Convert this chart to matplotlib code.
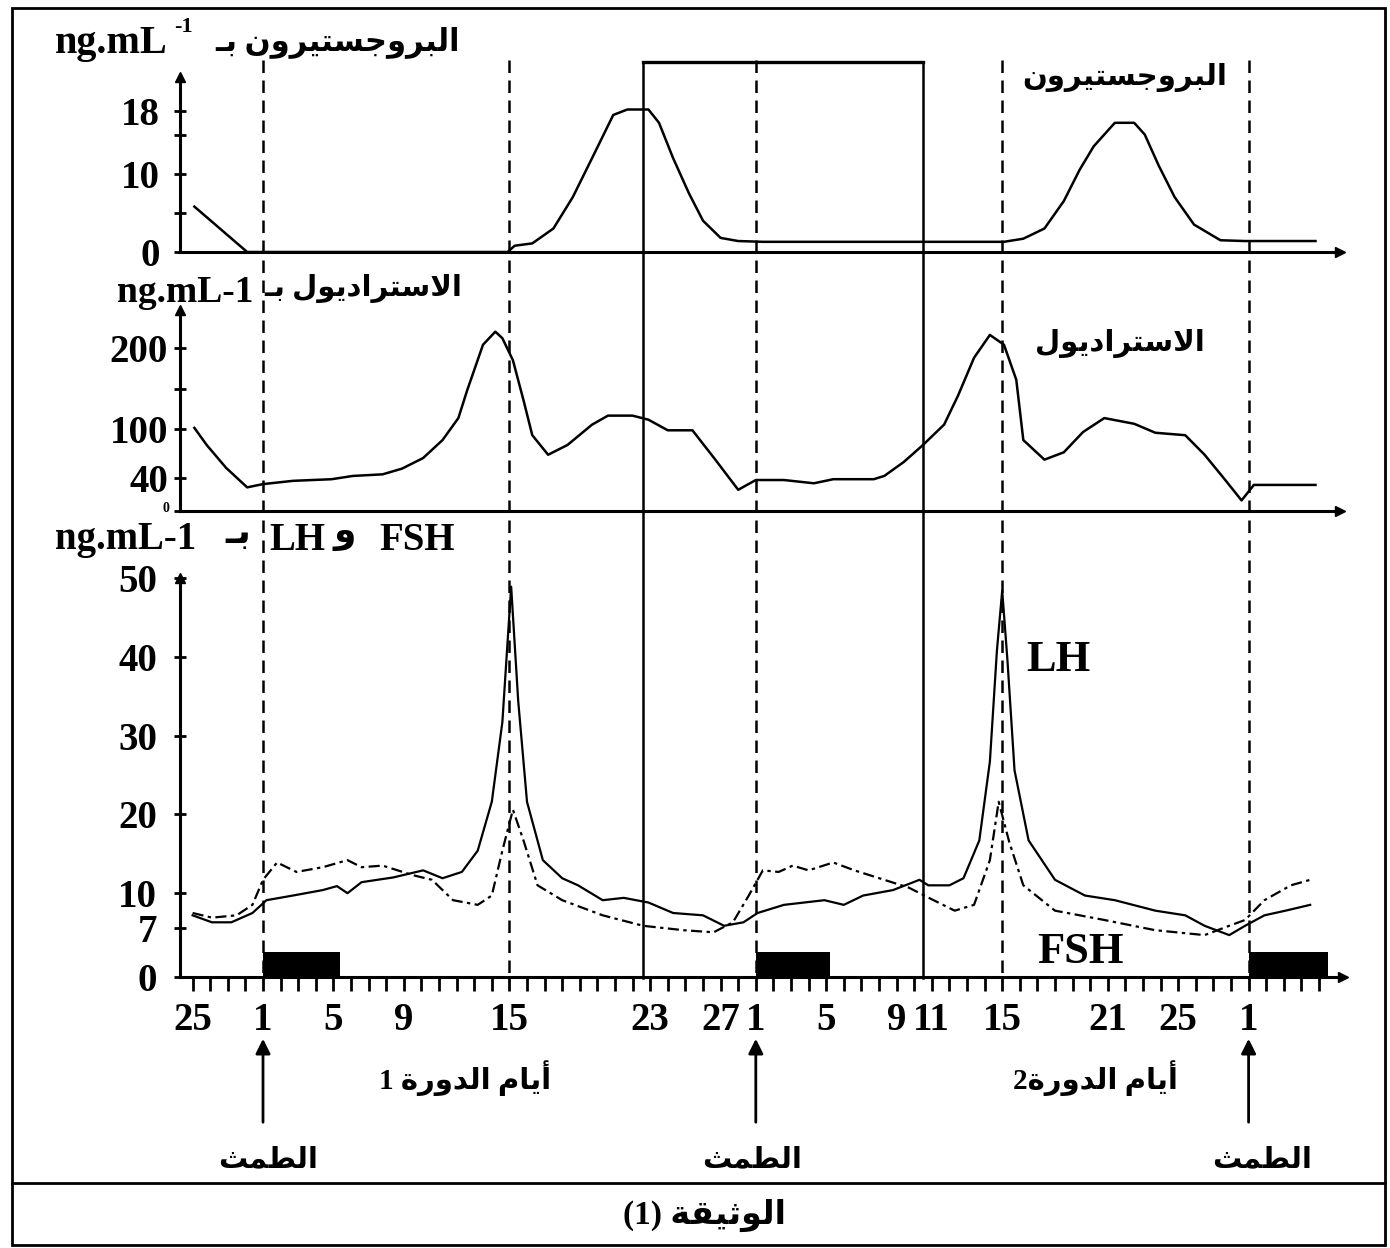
import numpy as np
import matplotlib.pyplot as plt
from matplotlib.patches import Rectangle

# day index: 0 = day 1 of cycle 1, 28 = day 1 of cycle 2, 56 = day 1 of cycle 3
prog_day = [-3.9, -0.9, 13.9, 14.3, 15.3, 16.5, 17.6, 18.7, 19.9, 20.7, 21.9, 22.5,
            23.3, 24.2, 25.0, 26.0, 27.0, 28.4, 42.1, 43.2, 44.4, 45.5, 46.4, 47.2,
            48.4, 49.5, 50.1, 50.9, 51.8, 52.9, 54.4, 55.8, 59.8]
prog_val = [5.8, 0, 0, 0.8, 1.1, 3, 7, 12, 17.5, 18.2, 18.2, 16.5,
            12, 7.5, 4, 1.8, 1.4, 1.3, 1.3, 1.7, 3, 6.5, 10.5, 13.5,
            16.5, 16.5, 15, 11, 7, 3.5, 1.5, 1.4, 1.4]

estr_day = [-3.9, -3.2, -2.1, -0.9, 0, 1.7, 3.9, 5.1, 6.8, 7.9, 9.1, 10.2, 11.1, 11.6,
            12.5, 13.2, 13.6, 14.2, 14.8, 15.3, 16.2, 17.3, 18.7, 19.6, 21.0, 21.9,
            23.0, 24.4, 25.7, 27.0, 28.0, 29.6, 31.3, 32.4, 34.7, 35.3, 36.4, 37.5,
            38.7, 39.5, 40.4, 41.3, 42.1, 42.8, 43.2, 44.4, 45.5, 46.6, 47.8, 49.5,
            50.7, 52.4, 53.5, 54.6, 55.6, 56.3, 59.8]
estr_val = [102, 81, 53, 29, 33, 37, 39, 43, 45, 52, 65, 87, 114, 148,
            204, 220, 212, 185, 136, 93, 69, 81, 106, 117, 117, 112,
            99, 99, 63, 26, 38, 38, 34, 39, 39, 43, 60, 81,
            106, 142, 188, 216, 204, 161, 87, 63, 72, 97, 114, 107,
            96, 93, 69, 40, 13, 32, 32]

lh_day = [-4.0, -2.9, -1.8, -0.6, 0.2, 1.7, 3.4, 4.2, 4.8, 5.6, 7.4, 9.1, 10.2, 11.3,
          12.2, 13.0, 13.6, 14.1, 14.5, 15.0, 15.9, 17.0, 17.9, 19.3, 20.5, 21.9,
          23.3, 25.0, 26.2, 27.3, 28.1, 29.6, 31.9, 33.0, 34.1, 35.8, 37.3, 37.8,
          39.0, 39.8, 40.7, 41.3, 41.7, 42.0, 42.3, 42.7, 43.5, 45.0, 46.7, 48.4,
          50.7, 52.4, 53.5, 54.9, 55.8, 56.9, 58.1, 59.5]
lh_val = [8.1, 7.5, 7.5, 8.3, 9.4, 9.8, 10.4, 10.9, 10.0, 11.4, 12.0, 12.9, 11.9, 12.7,
          15.4, 21.6, 31.7, 48.9, 34.4, 21.6, 14.2, 11.9, 11.0, 9.4, 9.6, 9.2,
          8.3, 8.1, 7.2, 7.5, 8.3, 9.0, 9.4, 9.0, 9.8, 10.4, 11.7, 11.0,
          11.0, 11.9, 16.7, 26.7, 40.8, 48.4, 39.5, 25.6, 16.7, 11.7, 9.8, 9.4,
          8.5, 8.1, 7.2, 6.0, 7.2, 8.1, 8.5, 9.0]

fsh_day = [-4.0, -2.9, -1.5, -0.6, 0, 0.8, 1.9, 3.4, 4.8, 5.6, 6.8, 8.5, 9.6, 10.8,
           12.2, 13.0, 13.6, 14.2, 14.8, 15.6, 17.0, 19.3, 21.6, 23.9, 25.6, 26.7,
           27.6, 28.4, 29.3, 30.1, 31.0, 32.4, 33.6, 35.3, 36.7, 38.1, 39.3, 40.4,
           41.3, 41.8, 42.4, 43.2, 45.0, 47.8, 50.7, 53.5, 54.9, 55.8, 56.9, 58.4, 59.5]
fsh_val = [8.3, 7.9, 8.1, 9.0, 11.7, 13.9, 12.7, 13.3, 14.2, 13.3, 13.5, 12.3, 11.7, 9.4,
           9.0, 9.8, 15.4, 20.6, 16.7, 11.0, 9.4, 8.1, 7.2, 6.7, 6.4, 7.5,
           9.8, 12.9, 12.7, 13.5, 12.9, 13.9, 12.9, 11.7, 10.7, 9.4, 8.5, 9.0,
           14.2, 21.6, 16.5, 11.0, 8.5, 7.7, 6.7, 6.0, 7.2, 7.7, 9.4, 11.0, 11.7]

# menstruation periods (start day, end day)
menses = [(0, 4.4), (28, 32.2), (56, 60.5)]
menses_height = 3.6

cycle_starts = [0, 14, 28, 42, 56]          # dashed guides
window_days = [21.6, 37.5]                  # boxed window

tick_days = [-4, 0, 4, 8, 14, 22, 26, 28, 32, 36, 38, 42, 48, 52, 56]
tick_names = ['25', '1', '5', '9', '15', '23', '27', '1', '5', '9', '11', '15', '21', '25', '1']

# gonadotropin axis is stretched between 7 and 10
gn_vals = [0, 7, 10, 50]
gn_pos = [0, 49, 84, 400]

# ---- minimal arabic shaping (presentation forms, visual order) ----
FORMS = {
    'ا': ('\uFE8D', '\uFE8E', None, None), 'أ': ('\uFE83', '\uFE84', None, None),
    'ب': ('\uFE8F', '\uFE90', '\uFE91', '\uFE92'), 'ة': ('\uFE93', '\uFE94', None, None),
    'ت': ('\uFE95', '\uFE96', '\uFE97', '\uFE98'), 'ث': ('\uFE99', '\uFE9A', '\uFE9B', '\uFE9C'),
    'ج': ('\uFE9D', '\uFE9E', '\uFE9F', '\uFEA0'), 'د': ('\uFEA9', '\uFEAA', None, None),
    'ر': ('\uFEAD', '\uFEAE', None, None), 'س': ('\uFEB1', '\uFEB2', '\uFEB3', '\uFEB4'),
    'ط': ('\uFEC1', '\uFEC2', '\uFEC3', '\uFEC4'), 'ق': ('\uFED5', '\uFED6', '\uFED7', '\uFED8'),
    'ل': ('\uFEDD', '\uFEDE', '\uFEDF', '\uFEE0'), 'م': ('\uFEE1', '\uFEE2', '\uFEE3', '\uFEE4'),
    'ن': ('\uFEE5', '\uFEE6', '\uFEE7', '\uFEE8'), 'و': ('\uFEED', '\uFEEE', None, None),
    'ي': ('\uFEF1', '\uFEF2', '\uFEF3', '\uFEF4'),
}
LAM_ALEF = {'ا': ('\uFEFB', '\uFEFC'), 'أ': ('\uFEF7', '\uFEF8')}


def joins_next(c):
    return c == 'ـ' or (c in FORMS and FORMS[c][2] is not None)


def ar(s):
    out = []
    i = 0
    while i < len(s):
        c = s[i]
        if c not in FORMS:
            out.append(c)
            i += 1
            continue
        jp = i > 0 and joins_next(s[i - 1])
        if c == 'ل' and i + 1 < len(s) and s[i + 1] in LAM_ALEF:
            out.append(LAM_ALEF[s[i + 1]][1 if jp else 0])
            i += 2
            continue
        nxt = s[i + 1] if i + 1 < len(s) else ''
        jn = joins_next(c) and (nxt in FORMS or nxt == 'ـ')
        iso, fin, ini, med = FORMS[c]
        out.append(med if jp and jn else fin if jp else ini if jn else iso)
        i += 1
    return ''.join(reversed(out))


W, H = 1390, 1248
PXD = 17.6     # pixels per day
X0 = 263       # pixel column of day index 0
FAM = ['Liberation Serif', 'DejaVu Sans']


def day(px):
    return (px - X0) / PXD


def put(px, py, s, size, ha='center', va='center', **kw):
    fig.text(px / W, 1 - py / H, s, fontsize=size, ha=ha, va=va,
             family=FAM, weight='bold', **kw)


fig = plt.figure(figsize=(W / 100, H / 100), dpi=100)

# overlay in day units / pixel rows for guides and arrows
ov = fig.add_axes([0, 0, 1, 1])
ov.set_xlim(day(0), day(W))
ov.set_ylim(H, 0)
ov.axis('off')


def panel(top, bottom, ymax, right=1340):
    ax = fig.add_axes([180 / W, 1 - bottom / H, (right - 180) / W, (bottom - top) / H])
    ax.set_xlim(day(180), day(right))
    ax.set_ylim(0, ymax)
    ax.patch.set_alpha(0)
    for s in ['top', 'right']:
        ax.spines[s].set_visible(False)
    for s in ['left', 'bottom']:
        ax.spines[s].set_linewidth(2.2)
    ax.plot(1, 0, '>k', ms=7, transform=ax.transAxes, clip_on=False)
    ax.plot(0, 1, '^k', ms=7, transform=ax.transAxes, clip_on=False)
    ax.tick_params(axis='y', direction='inout', length=9, width=2)
    ax.tick_params(axis='x', bottom=False, labelbottom=False)
    return ax


tick_font = dict(family='Liberation Serif', weight='bold', size=28)

axP = panel(77, 252, 22.35)
axP.plot(prog_day, prog_val, color='k', lw=1.8)
axP.set_yticks([0, 5, 10, 15, 18], ['0', '', '10', '', '18'], **tick_font)
axP.tick_params(axis='y', pad=10)

axE = panel(310, 511, 246.6)
axE.plot(estr_day, estr_val, color='k', lw=1.8)
axE.set_yticks([0, 40, 100, 150, 200], ['', '40', '100', '', '200'], **tick_font)
axE.tick_params(axis='y', pad=4)
# small zero squeezed under the 40 label
put(169, 509, '0', 10, ha='right')

axH = panel(578, 977, 50, right=1343)
axH.set_yscale('function', functions=(lambda v: np.interp(v, gn_vals, gn_pos),
                                      lambda p: np.interp(p, gn_pos, gn_vals)))
axH.set_ylim(0, 50)
axH.plot(lh_day, lh_val, color='k', lw=1.6)
axH.plot(fsh_day, fsh_val, color='k', lw=1.6, ls=(0, (5, 2, 1.5, 2)))
for a, b in menses:
    axH.add_patch(Rectangle((a, 0), b - a, menses_height, color='k', lw=0))
axH.set_yticks([0, 7, 10, 20, 30, 40, 50], ['0', '7', '10', '20', '30', '40', '50'], **tick_font)
axH.yaxis.set_minor_locator(plt.NullLocator())
axH.tick_params(axis='y', pad=12)
axH.tick_params(axis='x', bottom=True, labelbottom=True, direction='out',
                length=10, width=2, pad=8, which='both')
axH.set_xticks(tick_days, tick_names, **tick_font)
axH.set_xticks(np.arange(-4, 61), minor=True)

# guides across all panels
for d in cycle_starts:
    ov.plot([d, d], [60, 978], color='k', lw=1.8, ls=(0, (5, 3)))
ov.plot([window_days[0]] * 2, [62, 978], color='k', lw=1.8)
ov.plot([window_days[1]] * 2, [62, 978], color='k', lw=1.8)
ov.plot(window_days, [62, 62], color='k', lw=2.4)

# menstruation arrows
for d in [0, 28, 56]:
    ov.annotate('', xy=(d, 1036), xytext=(d, 1125),
                arrowprops=dict(arrowstyle='-|>', color='k', lw=2, mutation_scale=22))

# frame
ov.add_patch(Rectangle((day(12), 8), day(1385) - day(12), 1237, fill=False, lw=2, ec='k'))
ov.plot([day(12), day(1385)], [1183, 1183], color='k', lw=2)

# axis titles
put(55, 44, 'ng.mL', 29, ha='left')
put(174, 27, '-1', 16, ha='left')
put(460, 42, ar('البروجستيرون بـ'), 22, ha='right')

put(253, 293, 'ng.mL-1', 27, ha='right')
put(462, 288, ar('الاستراديول بـ'), 21, ha='right')

put(55, 540, 'ng.mL-1', 28, ha='left')
put(238, 535, ar('بـ'), 26)
put(325, 540, 'LH', 28, ha='right')
put(345, 535, ar('و'), 26)
put(455, 540, 'FSH', 28, ha='right')

# curve labels
put(1125, 78, ar('البروجستيرون'), 21)
put(1120, 343, ar('الاستراديول'), 21)
put(1058, 660, 'LH', 32)
put(1080, 952, 'FSH', 32)

put(465, 1078, '1 ' + ar('أيام الدورة'), 21)
put(1095, 1078, '2' + ar('أيام الدورة'), 21)
for px in [268, 752, 1262]:
    put(px, 1160, ar('الطمث'), 21)
put(705, 1215, '(1) ' + ar('الوثيقة'), 24)

fig.savefig('out.png', dpi=100, facecolor='white')
